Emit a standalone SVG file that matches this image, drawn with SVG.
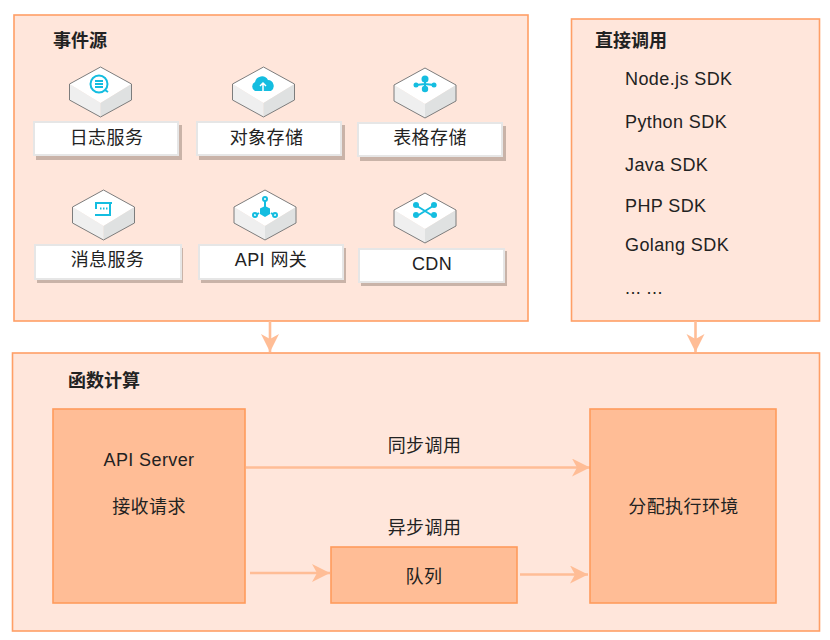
<svg xmlns="http://www.w3.org/2000/svg" width="830" height="640" viewBox="0 0 830 640">
  <style>
    text { font-family: "Liberation Sans", "Noto Sans CJK SC", sans-serif; font-size: 18px; fill: #222; text-anchor: middle; }
    .title { font-weight: bold; text-anchor: start; }
    .sdk { text-anchor: start; }
    .latin { letter-spacing: 0.4px; }
    .cjk { letter-spacing: 0.4px; }
    .panel { fill: #ffe6db; stroke: #ff9f66; stroke-width: 1.6; }
    .block { fill: #ffbd96; stroke: #ff9b5c; stroke-width: 1.6; }
    .shadow { fill: #c9b3a8; }
    .card { fill: #fff; stroke: #e6e6e6; stroke-width: 2; }
    .link { fill: none; stroke: #ffbd96; stroke-width: 2.6; }
    .top { fill: #fff; }
    .lf { fill: #efefef; }
    .rf { fill: #dfe1e1; }
    .edge { fill: none; stroke: #7d7d7d; stroke-width: 1; }
    .glyph { fill: #14bde0; }
    .gl { fill: none; stroke: #14bde0; stroke-width: 2; }
  </style>
  <defs>
    <marker id="head" markerUnits="userSpaceOnUse" markerWidth="20" markerHeight="20" refX="18" refY="9" orient="auto">
      <path d="M0 0 L18 9 L0 18 L5 9 Z" fill="#ffbd96"/>
    </marker>
    <g id="cube">
      <path class="top" d="M0 -25 L31 -8 L0 11 L-31 -8 Z"/>
      <path class="lf" d="M-31 -8 L0 11 L0 25 L-31 8 Z"/>
      <path class="rf" d="M31 -8 L0 11 L0 25 L31 8 Z"/>
      <path class="edge" d="M0 -25 L31 -8 L31 8 L0 25 L-31 8 L-31 -8 Z"/>
    </g>
  </defs>

  <rect id="events-panel" class="panel" x="14" y="15" width="514" height="306"/>
  <rect id="direct-panel" class="panel" x="571.500" y="19" width="248" height="302"/>
  <rect id="fc-panel" class="panel" x="12.500" y="353" width="807" height="278"/>

  <g id="connectors">
    <path class="link" d="M270 321 V352" marker-end="url(#head)"/>
    <path class="link" d="M695.500 321 V352" marker-end="url(#head)"/>
    <path class="link" d="M246 467.500 H590" marker-end="url(#head)"/>
    <path class="link" d="M250 573 H330" marker-end="url(#head)"/>
    <path class="link" d="M520 574.500 H588" marker-end="url(#head)"/>
  </g>

  <text class="title" x="53" y="47">事件源</text>
  <text class="title" x="595" y="47">直接调用</text>
  <text class="title" x="68" y="387">函数计算</text>

  <g id="log-service">
    <use href="#cube" x="100.500" y="92"/>
    <circle class="gl" cx="99" cy="84" r="8.500" stroke-width="3"/>
    <path class="gl" d="M95 81 H103 M95 84 H103 M95 87 H103" stroke-width="1"/>
    <path class="gl" d="M105 90 L108 92"/>
    <rect class="shadow" x="36" y="125" width="146" height="35"/>
    <rect class="card" x="34" y="122" width="144" height="33"/>
    <text class="cjk" x="106.500" y="144">日志服务</text>
  </g>
  <g id="object-storage">
    <use href="#cube" x="263.500" y="92"/>
    <path class="glyph" d="M255 91 a5 5 0 0 1 0 -9 a7 7 0 0 1 13 -2 a6 6 0 0 1 3 11 Z"/>
    <path d="M263 91 V83 M260 86 L263 83 L266 86" fill="none" stroke="#fff" stroke-width="1.500"/>
    <rect class="shadow" x="199" y="125" width="146" height="35"/>
    <rect class="card" x="197" y="122" width="144" height="33"/>
    <text class="cjk" x="266.500" y="144">对象存储</text>
  </g>
  <g id="table-storage">
    <use href="#cube" x="425" y="93"/>
    <path class="gl" d="M425 79 V88 M425 84 L416 85 M425 84 L434 85"/>
    <circle class="glyph" cx="425" cy="79" r="3.500"/>
    <circle class="glyph" cx="425" cy="89" r="3.200"/>
    <circle class="glyph" cx="416" cy="85" r="2.500"/>
    <circle class="glyph" cx="434" cy="85" r="2.500"/>
    <rect class="shadow" x="360" y="126" width="146" height="35"/>
    <rect class="card" x="358" y="123" width="144" height="33"/>
    <text class="cjk" x="430" y="144">表格存储</text>
  </g>
  <g id="message-service">
    <use href="#cube" x="103.500" y="215"/>
    <path class="gl" d="M112 203 H96 V209 M110 203 V215 H95" stroke-width="1.800"/>
    <path class="gl" d="M100 208.500 H108" stroke-width="1.200" stroke-dasharray="1.500 1.500"/>
    <rect class="shadow" x="37" y="248" width="146" height="35"/>
    <rect class="card" x="35" y="245" width="146" height="34"/>
    <text class="cjk" x="107.500" y="266">消息服务</text>
  </g>
  <g id="api-gateway">
    <use href="#cube" x="265" y="215"/>
    <path class="gl" d="M265 201 V208 M259 213 L256 215 M271 213 L274 215" stroke-width="1"/>
    <circle class="gl" cx="265" cy="199" r="2" stroke-width="1"/>
    <circle class="gl" cx="255" cy="215" r="2" stroke-width="1"/>
    <circle class="gl" cx="275" cy="215" r="2" stroke-width="1"/>
    <path class="glyph" d="M265 206 L270 208.500 V214 L265 217 L260 214 V208.500 Z"/>
    <rect class="shadow" x="201" y="248" width="145" height="35"/>
    <rect class="card" x="199" y="245" width="144" height="34"/>
    <text class="latin" x="271" y="266">API 网关</text>
  </g>
  <g id="cdn">
    <use href="#cube" x="425" y="218"/>
    <path class="gl" d="M417 206 L433 216 M433 206 L417 216" stroke-width="4"/>
    <circle class="glyph" cx="416" cy="205" r="3"/>
    <circle class="glyph" cx="434" cy="205" r="3"/>
    <circle class="glyph" cx="416" cy="215" r="3"/>
    <circle class="glyph" cx="434" cy="215" r="3"/>
    <rect class="shadow" x="361" y="251" width="146" height="35"/>
    <rect class="card" x="359" y="249" width="145" height="33"/>
    <text class="latin" x="432" y="270">CDN</text>
  </g>

  <g id="sdk-list">
    <text class="sdk latin" x="625" y="85">Node.js SDK</text>
    <text class="sdk latin" x="625" y="128">Python SDK</text>
    <text class="sdk latin" x="625" y="171">Java SDK</text>
    <text class="sdk latin" x="625" y="212">PHP SDK</text>
    <text class="sdk latin" x="625" y="251">Golang SDK</text>
    <text class="sdk latin" x="625" y="294">... ...</text>
  </g>

  <g id="api-server">
    <rect class="block" x="53" y="409" width="192" height="194"/>
    <text class="latin" x="149" y="466">API Server</text>
    <text class="cjk" x="149" y="513">接收请求</text>
  </g>
  <g id="exec-env">
    <rect class="block" x="590" y="409" width="186" height="194"/>
    <text class="cjk" x="683.500" y="513">分配执行环境</text>
  </g>
  <g id="queue">
    <rect class="block" x="331" y="547" width="186" height="56"/>
    <text class="cjk" x="424" y="583">队列</text>
  </g>
  <text class="cjk" x="424.500" y="452">同步调用</text>
  <text class="cjk" x="424.500" y="534">异步调用</text>
</svg>
